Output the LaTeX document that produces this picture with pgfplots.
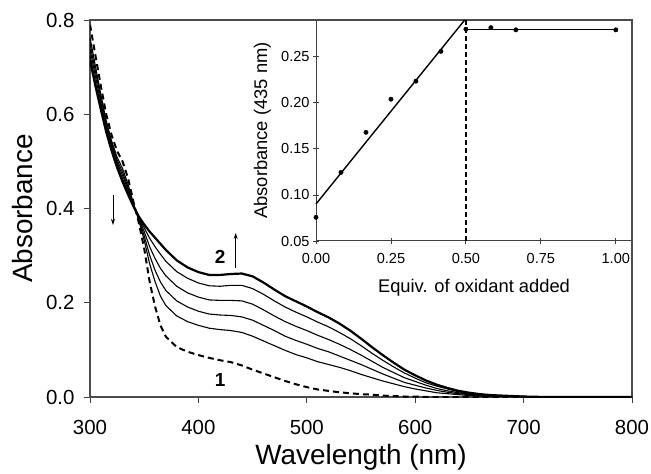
\documentclass[border=0pt]{standalone}
\usepackage{fontspec}
\setmainfont{Liberation Sans}
\usepackage{pgfplots}
\usepackage{pgfplotstable}
\usetikzlibrary{arrows.meta}
\pgfplotsset{compat=1.18}
\pgfplotstableread{
wl   D     c1    c2    c3    c4    T
300  0.790 0.763 0.750 0.738 0.725 0.715
305  0.725 0.702 0.691 0.680 0.668 0.660
310  0.660 0.642 0.634 0.625 0.617 0.610
315  0.600 0.586 0.580 0.573 0.567 0.562
320  0.555 0.543 0.538 0.532 0.526 0.522
325  0.522 0.509 0.503 0.498 0.492 0.487
330  0.500 0.485 0.477 0.470 0.463 0.457
335  0.465 0.452 0.446 0.441 0.435 0.430
340  0.415 0.411 0.410 0.408 0.406 0.405
345  0.370 0.375 0.377 0.379 0.381 0.383
350  0.315 0.333 0.342 0.351 0.359 0.366
355  0.245 0.283 0.301 0.319 0.337 0.351
360  0.192 0.245 0.269 0.294 0.319 0.338
365  0.152 0.214 0.244 0.273 0.303 0.325
370  0.128 0.194 0.226 0.257 0.288 0.312
380  0.106 0.172 0.204 0.235 0.266 0.290
390  0.096 0.160 0.191 0.221 0.252 0.275
400  0.089 0.152 0.182 0.212 0.242 0.265
410  0.083 0.146 0.176 0.206 0.236 0.259
420  0.078 0.143 0.174 0.205 0.235 0.259
430  0.074 0.141 0.173 0.205 0.237 0.261
440  0.067 0.137 0.170 0.204 0.237 0.262
450  0.058 0.129 0.163 0.197 0.230 0.256
460  0.050 0.119 0.152 0.185 0.218 0.243
470  0.042 0.109 0.141 0.172 0.204 0.228
480  0.034 0.099 0.129 0.160 0.191 0.214
490  0.027 0.090 0.120 0.150 0.180 0.203
500  0.021 0.083 0.112 0.141 0.170 0.192
510  0.016 0.075 0.103 0.131 0.159 0.180
520  0.013 0.069 0.096 0.122 0.149 0.169
530  0.010 0.063 0.087 0.112 0.137 0.156
540  0.008 0.056 0.078 0.101 0.124 0.141
550  0.006 0.048 0.069 0.089 0.109 0.124
560  0.005 0.041 0.059 0.076 0.093 0.106
570  0.003 0.034 0.049 0.063 0.078 0.089
580  0.002 0.028 0.040 0.052 0.064 0.073
590  0.001 0.022 0.031 0.041 0.051 0.058
600  0.001 0.017 0.025 0.033 0.040 0.046
610  0.000 0.013 0.019 0.025 0.030 0.035
620  0.000 0.009 0.014 0.018 0.023 0.026
630  0.000 0.007 0.010 0.013 0.017 0.019
640  0.000 0.005 0.007 0.009 0.011 0.013
650  0.000 0.003 0.005 0.006 0.008 0.009
660  0.000 0.002 0.003 0.004 0.005 0.006
670  0.000 0.001 0.002 0.003 0.003 0.004
680  0.000 0.001 0.002 0.002 0.003 0.003
690  0.000 0.001 0.001 0.001 0.002 0.002
700  0.000 0.000 0.001 0.001 0.001 0.001
720  0.000 0.000 0.000 0.000 0.000 0.000
800  0.000 0.000 0.000 0.000 0.000 0.000
}\spectra
\pgfplotstableread{
eq      A
0.0000  0.0757
0.0833  0.1245
0.1667  0.1680
0.2500  0.2040
0.3333  0.2236
0.4167  0.2559
0.5000  0.2800
0.5833  0.2817
0.6667  0.2793
1.0000  0.2793
}\titration
\begin{document}
\begin{tikzpicture}
\useasboundingbox (-90bp,-77bp) rectangle (561bp,397bp);
\begin{axis}[
  at={(0,0)}, anchor=south west, scale only axis,
  width=542bp, height=377bp,
  xmin=300, xmax=800, ymin=0, ymax=0.8,
  xtick={300,400,500,600,700,800},
  ytick={0,0.2,0.4,0.6,0.8},
  xtick pos=bottom, ytick pos=left,
  tick align=outside, major tick length=6bp,
  tick style={black!75, line width=0.9bp},
  axis line style={black!70, line width=1.1bp},
  /pgf/number format/assume math mode=true,
  /pgf/number format/1000 sep={},
  yticklabel style={/pgf/number format/fixed, /pgf/number format/fixed zerofill, /pgf/number format/precision=1, xshift=-6bp},
  xticklabel style={yshift=-14bp},
  ticklabel style={font=\fontsize{20.5}{24}\selectfont},
  xlabel={Wavelength (nm)}, ylabel={Absorbance},
  label style={font=\fontsize{28}{32}\selectfont},
  xlabel style={at={(axis description cs:0.5,-0.180)}, anchor=base},
  ylabel style={at={(axis description cs:-0.1061,0.5)}, anchor=base},
]
\addplot[black, line width=2bp, dash pattern=on 6bp off 4bp] table[x=wl,y=D] {\spectra};
\addplot[black, line width=1.1bp] table[x=wl,y=c1] {\spectra};
\addplot[black, line width=1.1bp] table[x=wl,y=c2] {\spectra};
\addplot[black, line width=1.1bp] table[x=wl,y=c3] {\spectra};
\addplot[black, line width=1.1bp] table[x=wl,y=c4] {\spectra};
\addplot[black, line width=2.2bp] table[x=wl,y=T] {\spectra};
\draw[black, line width=0.9bp, -{Stealth[length=6bp,width=4bp]}] (axis cs:321.2,0.429) -- (axis cs:321.2,0.365);
\draw[black, line width=0.9bp, -{Stealth[length=6bp,width=4bp]}] (axis cs:434.4,0.274) -- (axis cs:434.4,0.348);
\node[font=\fontsize{19}{22}\selectfont\bfseries] at (axis cs:420,0.298) {2};
\node[font=\fontsize{19}{22}\selectfont\bfseries] at (axis cs:420,0.036) {1};
\end{axis}
\begin{axis}[
  at={(226bp,156bp)}, anchor=south west, scale only axis,
  width=316bp, height=221bp,
  xmin=0, xmax=1.054, ymin=0.05, ymax=0.29,
  axis x line*=bottom, axis y line*=left,
  axis line style={black!75, line width=1bp, -},
  xtick={0,0.25,0.5,0.75,1}, ytick={0.05,0.1,0.15,0.2,0.25},
  tick align=center, major tick length=6bp,
  tick style={black!75, line width=0.9bp},
  /pgf/number format/assume math mode=true,
  /pgf/number format/fixed, /pgf/number format/fixed zerofill, /pgf/number format/precision=2,
  ticklabel style={font=\fontsize{14.6}{17}\selectfont},
  xticklabel style={yshift=-6bp},
  xlabel={Equiv. of oxidant added}, ylabel={Absorbance (435 nm)},
  label style={font=\fontsize{18.4}{21}\selectfont},
  xlabel style={at={(axis description cs:0.5,-0.2308)}, anchor=base},
  ylabel style={at={(axis description cs:-0.155,0.5)}, anchor=base},
  clip=false,
]
\addplot[black, line width=1.4bp] coordinates {(0,0.0902) (0.496,0.29)};
\addplot[black, line width=1.4bp] coordinates {(0.5,0.2795) (1.0,0.2795)};
\addplot[black, line width=1.3bp, dash pattern=on 5bp off 3bp] coordinates {(0.5,0.05) (0.5,0.29)};
\addplot[only marks, mark=*, mark size=2.2bp, black] table[x=eq,y=A] {\titration};
\end{axis}
\end{tikzpicture}
\end{document}
